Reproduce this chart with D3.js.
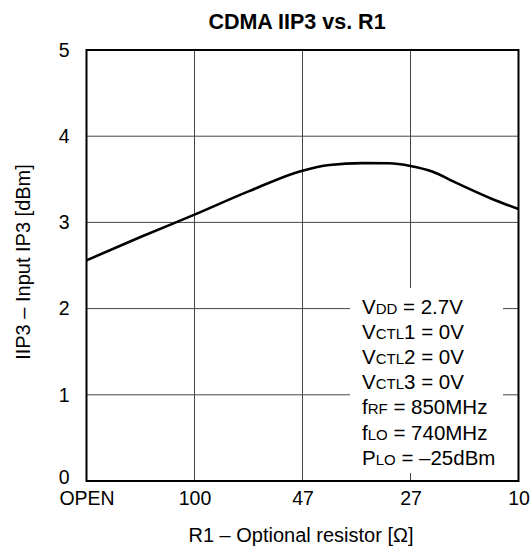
<!DOCTYPE html>
<html>
<head>
<meta charset="utf-8">
<script src="https://cdn.jsdelivr.net/npm/d3@7"></script>
<style>
  body { margin: 0; background: #fff; }
  svg { display: block; font-family: Arial, "Liberation Sans", sans-serif; }
</style>
</head>
<body>
<svg id="chart" width="531" height="549"></svg>
<script>
// Resistor settings along the x axis (evenly spaced categories)
const xTickLabels = ["OPEN", "100", "47", "27", "10"];
const yTickValues = [0, 1, 2, 3, 4, 5];

// IIP3 curve: position along the resistor axis (0 = OPEN ... 4 = 10 Ω) and value in dBm
const curvePos = [0, 0.5, 1, 1.5, 2, 2.25, 2.55, 2.8, 3, 3.2, 3.43, 3.75, 4];
const iip3Dbm  = [2.56, 2.83, 3.09, 3.36, 3.60, 3.665, 3.688, 3.686, 3.655, 3.59, 3.455, 3.275, 3.155];

// Test conditions: [main letter, small-caps part, remainder]
const conditionLines = [
  ["V", "DD", " = 2.7V"],
  ["V", "CTL", "1 = 0V"],
  ["V", "CTL", "2 = 0V"],
  ["V", "CTL", "3 = 0V"],
  ["f", "RF", " = 850MHz"],
  ["f", "LO", " = 740MHz"],
  ["P", "LO", " = \u201325dBm"]
];

const FONT = "Arial, 'Liberation Sans', sans-serif";
const svg = d3.select("#chart");
const plot = { left: 86.5, right: 518.5, top: 50, bottom: 481 };

const x = d3.scaleLinear().domain([0, 4]).range([plot.left, plot.right]);
const y = d3.scaleLinear().domain([0, 5]).range([plot.bottom, plot.top]);

// Title
svg.append("text")
  .attr("x", 297).attr("y", 29)
  .attr("text-anchor", "middle")
  .attr("font-size", 21.5).attr("font-weight", "bold")
  .text("CDMA IIP3 vs. R1");

// Grid lines
const grid = svg.append("g").attr("stroke", "#444").attr("stroke-width", 1);
grid.selectAll("line.v").data([1, 2, 3]).join("line")
  .attr("class", "v")
  .attr("x1", d => x(d)).attr("x2", d => x(d))
  .attr("y1", plot.top).attr("y2", plot.bottom);
grid.selectAll("line.h").data([1, 2, 3, 4]).join("line")
  .attr("class", "h")
  .attr("x1", plot.left).attr("x2", plot.right)
  .attr("y1", d => y(d)).attr("y2", d => y(d));

// Conditions box (white panel over the grid)
const box = svg.append("g");
box.append("rect")
  .attr("x", 350).attr("y", 288).attr("width", 153).attr("height", 185)
  .attr("fill", "#fff");
const condText = box.append("text").attr("font-size", 20.5).attr("fill", "#000");
conditionLines.forEach((ln, i) => {
  condText.append("tspan").attr("x", 362).attr("y", 314 + i * 25.1).text(ln[0]);
  condText.append("tspan").attr("font-size", 15).text(ln[1]);
  condText.append("tspan").text(ln[2]);
});

// IIP3 curve
const line = d3.line()
  .x((d, i) => x(curvePos[i]))
  .y(d => y(d))
  .curve(d3.curveMonotoneX);
svg.append("path")
  .datum(iip3Dbm)
  .attr("d", line)
  .attr("fill", "none")
  .attr("stroke", "#000")
  .attr("stroke-width", 2.6)
  .attr("stroke-linejoin", "round");

// Plot frame
svg.append("rect")
  .attr("x", plot.left).attr("y", plot.top)
  .attr("width", plot.right - plot.left).attr("height", plot.bottom - plot.top)
  .attr("fill", "none").attr("stroke", "#000").attr("stroke-width", 2);

// Axes (labels only)
const xAxis = svg.append("g")
  .attr("transform", `translate(0,${plot.bottom})`)
  .call(d3.axisBottom(x).tickValues([0, 1, 2, 3, 4]).tickSize(0)
    .tickFormat(i => xTickLabels[i]));
xAxis.select(".domain").remove();
xAxis.selectAll("text")
  .attr("y", 24).attr("dy", null)
  .attr("font-size", 19.5).attr("font-family", FONT).attr("fill", "#000");

const yAxis = svg.append("g")
  .attr("transform", `translate(${plot.left - 14},0)`)
  .call(d3.axisLeft(y).tickValues(yTickValues).tickSize(0).tickFormat(d3.format("d")));
yAxis.select(".domain").remove();
yAxis.selectAll("text")
  .attr("font-size", 19.5).attr("font-family", FONT).attr("fill", "#000")
  .attr("y", d => (d === 0 ? -4 : 0));

// Axis titles
svg.append("text")
  .attr("x", 301).attr("y", 542)
  .attr("text-anchor", "middle").attr("font-size", 20)
  .text("R1 \u2013 Optional resistor [\u03A9]");
svg.append("text")
  .attr("transform", "translate(30,262) rotate(-90)")
  .attr("text-anchor", "middle").attr("font-size", 20)
  .text("IIP3 \u2013 Input IP3 [dBm]");
</script>
</body>
</html>
